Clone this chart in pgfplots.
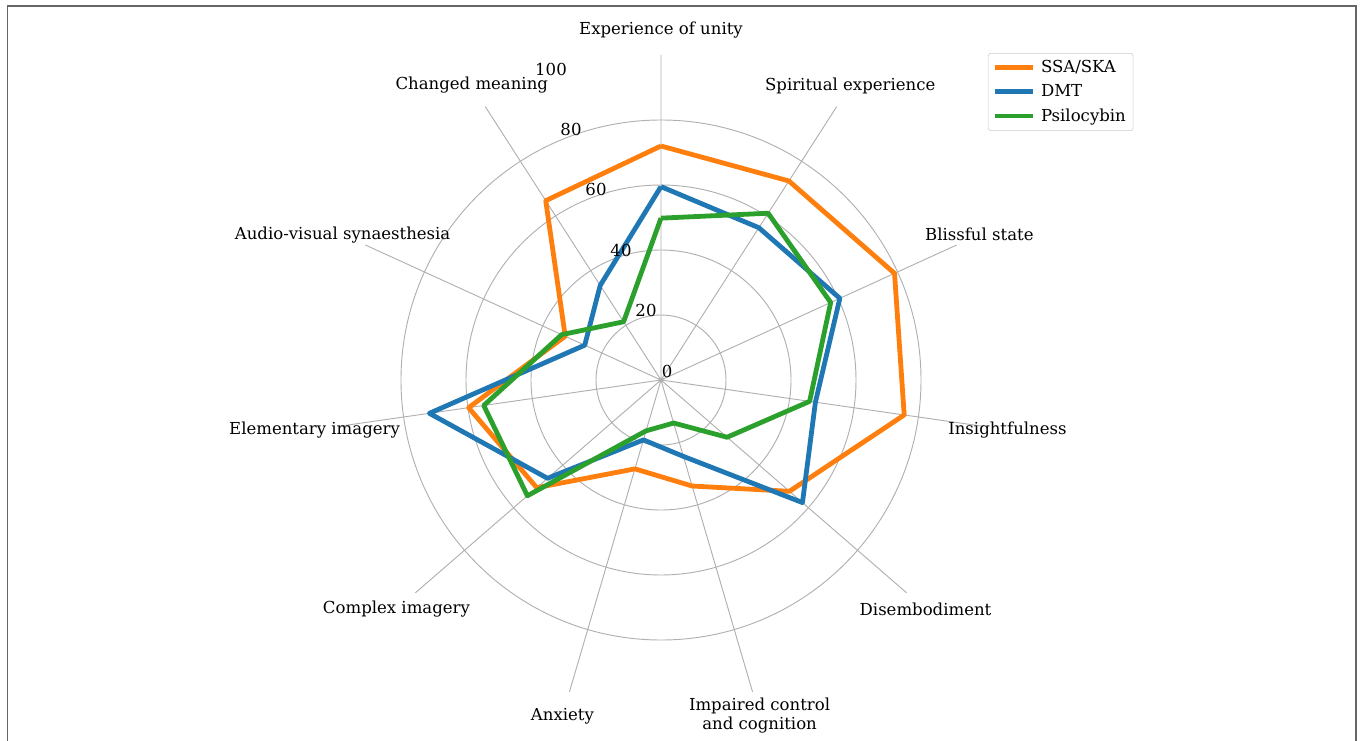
\documentclass[border=0pt]{standalone}
\usepackage{fontspec}
\setmainfont{DejaVu Serif}
\usepackage{pgfplots}
\pgfplotsset{compat=1.18}
\usepgfplotslibrary{polar}

\definecolor{mplorange}{HTML}{FF7F0E}
\definecolor{mplblue}{HTML}{1F77B4}
\definecolor{mplgreen}{HTML}{2CA02C}
\definecolor{gridgray}{HTML}{B0B0B0}

% axes, clockwise from the top: 90, 90-360/11, ...
% unity, spiritual, blissful, insight, disembodiment, impaired, anxiety,
% complex, elementary, audio-visual, changed meaning (then unity again)
\pgfplotstableread{
ang      ssa   dmt   psi
90       72.0  59.5  49.8
57.2727  72.8  55.7  61.0
24.5455  79.0  60.5  57.4
351.8182 75.6  48.0  46.2
319.0909 52.3  57.6  26.9
286.3636 34.0  24.5  13.8
253.6364 28.5  19.2  16.3
220.9091 50.6  46.2  54.4
188.1818 59.8  72.0  55.1
155.4545 32.4  25.8  33.6
122.7273 65.6  34.6  21.3
90       72.0  59.5  49.8
}\radar

\newcommand{\lbl}{\fontsize{12.4}{14.5}\selectfont}

\begin{document}
\begin{tikzpicture}
\useasboundingbox (0,0) rectangle (1022.25pt,555pt);
\draw[black!60, line width=1.1pt] (5.6pt,-20pt) -- (5.6pt,550.5pt) -- (1017pt,550.5pt) -- (1017pt,-20pt);

\begin{polaraxis}[
    at={(495.75pt,270pt)}, anchor=center,
    width=487.5pt, height=487.5pt, scale only axis,
    xmin=0, xmax=360, ymin=0, ymax=100,
    xtick={90,57.2727,24.5455,351.8182,319.0909,286.3636,253.6364,220.9091,188.1818,155.4545,122.7273},
    ytick={20,40,60,80},
    xticklabels={}, yticklabels={},
    tick label style={opacity=0},
    grid=major,
    major grid style={gridgray, line width=0.7pt},
    axis line style={draw=none},
    tick style={draw=none},
    clip=false,
    font=\lbl,
    legend cell align=left,
    legend style={
        at={(axis description cs:1.003,1.003)}, anchor=north west,
        draw=black!20, rounded corners=2pt, font=\lbl,
        inner xsep=3.5pt, inner ysep=3.5pt, row sep=3.4pt, column sep=2.5pt,
    },
    legend image code/.code={\draw[#1, line width=3.6pt] (0pt,0pt) -- (28pt,0pt);},
]
\addplot[mplorange, line width=3.6pt, line join=round] table[x=ang, y=ssa] {\radar};
\addlegendentry{SSA/SKA}
\addplot[mplblue, line width=3.6pt, line join=round] table[x=ang, y=dmt] {\radar};
\addlegendentry{DMT}
\addplot[mplgreen, line width=3.6pt, line join=round] table[x=ang, y=psi] {\radar};
\addlegendentry{Psilocybin}

\node at (axis cs:90,107.7) {Experience of unity};
\node at (axis cs:57.2727,107.7) {Spiritual experience};
\node at (axis cs:24.5455,107.7) {Blissful state};
\node at (axis cs:351.8182,107.7) {Insightfulness};
\node at (axis cs:319.0909,107.7) {Disembodiment};
\node[align=center] at (axis cs:286.3636,107.7) {Impaired control\\and cognition};
\node at (axis cs:253.6364,107.7) {Anxiety};
\node at (axis cs:220.9091,107.7) {Complex imagery};
\node at (axis cs:188.1818,107.7) {Elementary imagery};
\node at (axis cs:155.4545,107.7) {Audio-visual synaesthesia};
\node at (axis cs:122.7273,107.7) {Changed meaning};
\end{polaraxis}

\begin{scope}[font=\lbl]
\node at (500.25pt,276.75pt) {0};
\node at (484.5pt,322.5pt) {20};
\node at (465.75pt,367.5pt) {40};
\node at (447pt,413pt) {60};
\node at (428.25pt,458.25pt) {80};
\node at (413.25pt,503.25pt) {100};
\end{scope}
\end{tikzpicture}
\end{document}
